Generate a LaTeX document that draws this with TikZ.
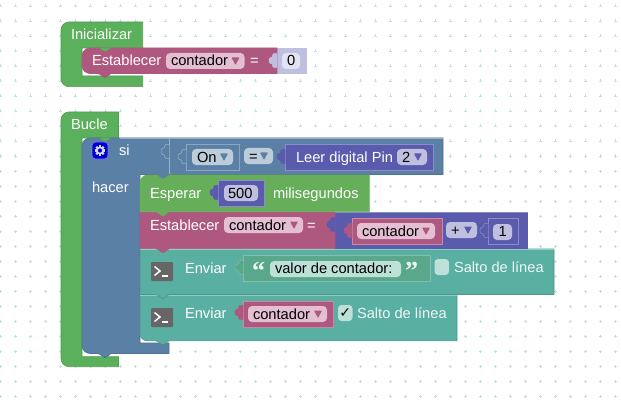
\documentclass[tikz,border=0pt]{standalone}
\usepackage{fontspec}
\setmainfont{Liberation Sans}
\newfontfamily\dejavu{DejaVu Sans}
\newfontfamily\qfont{Liberation Serif}
\definecolor{cgreen}{HTML}{5BB05B}
\definecolor{cesp}{HTML}{66AE5A}
\definecolor{cblue}{HTML}{5B80A5}
\definecolor{cpink}{HTML}{AE5880}
\definecolor{cpur}{HTML}{5B5BAE}
\definecolor{clil}{HTML}{BFBFDF}
\definecolor{cteal}{HTML}{59AFA1}
\definecolor{ctxt}{HTML}{5AA88C}
\definecolor{cdot}{HTML}{C2DFE8}
\definecolor{fpink}{HTML}{E3BFD1}
\definecolor{fblue}{HTML}{BDCCDB}
\definecolor{fpur}{HTML}{BFBFE0}
\definecolor{fteal}{HTML}{BDE0D8}
\definecolor{fval}{HTML}{E2E2F2}
\tikzset{
  txt/.style={inner sep=0pt,outer sep=0pt,anchor=base west,font=\fontsize{14.67}{16}\selectfont},
  wlbl/.style={txt,text=white},
  blbl/.style={txt,text=black},
  qmark/.style={inner sep=0pt,outer sep=0pt,anchor=base west,text=white!90!cteal,font=\qfont\bfseries\fontsize{26}{26}\selectfont},
  blockedge/.style={line width=0.6pt,line join=round}
}
% bottom tab, drawn from right to left, 12 wide
\newcommand\tabL{[rounded corners=1.6pt] -- ++(-5,4) -- ++(-2,0) -- ++(-5,-4) [sharp corners]}
% puzzle tab on the left side of a value block: x, top y, fill, stroke
\newcommand\vtab[4]{\filldraw[fill=#3,draw=#4,line width=0.5pt,rounded corners=1.5pt,shift={(#1,#2)}] (0.3,-0.3) -- (-5,-0.3) -- (-3.6,3) -- (-8,3.6) -- (-8,9.4) -- (-3.6,10) -- (-5,13.3) -- (0.3,13.3);}
% value block box
\newcommand\valbox[6]{\filldraw[fill=#5,draw=#6,line width=0.6pt] (#1,#2) rectangle (#3,#4);}
% dropdown: name,x1,y1,x2,y2,fill,arrow,baseline,text
\newcommand\dd[9]{%
  \fill[#6,rounded corners=4pt] (#2,#3) rectangle (#4,#5);
  \node[blbl] (#1) at ({#2+5},#8) {#9};
  \fill[#7,rounded corners=0.6pt] ({#4-13},{(#3+#5)/2-3.5}) -- ({#4-5},{(#3+#5)/2-3.5}) -- ({#4-9},{(#3+#5)/2+4}) -- cycle;}
% terminal icon
\newcommand\termicon[2]{%
  \fill[black!60,rounded corners=1pt] (#1,#2) rectangle ({#1+22},{#2+19});
  \draw[white,line width=1.5pt] ({#1+3.5},{#2+4.5}) -- ({#1+9},{#2+9}) -- ({#1+3.5},{#2+13.5});
  \draw[white,line width=1.2pt] ({#1+10.5},{#2+14}) -- ({#1+16.5},{#2+14});}
\begin{document}
\begin{tikzpicture}[x=1pt,y=-1pt]
\useasboundingbox (0,0) rectangle (621,401);
\fill[white] (0,0) rectangle (621,401);
% grid
\foreach \gx in {0,15,...,615}{\foreach \gy in {6,21,...,396}{
  \draw[cdot,line width=0.6pt] (\gx-1.5,\gy) -- (\gx+1.5,\gy) (\gx,\gy-1.5) -- (\gx,\gy+1.5);
}}
% ---------- Inicializar
\filldraw[fill=cgreen,draw=cgreen!90!black,blockedge] (100,22) -- (142.7,22) -- (142.7,48) -- (82,48) -- (82,76) -- (142.7,76) -- (142.7,86.7) -- (120,86.7) [rounded corners=8pt] -- (61,86.7) -- (61,22) -- cycle;
\node[wlbl] (ini) at (71,40) {Inicializar};
% pink set block
\fill[clil] (277,48) rectangle (306.5,74);
\filldraw[fill=cpink,draw=cpink,blockedge] (277,48) -- (277,73.5) -- (111,73.5) \tabL -- (92,73.5) [rounded corners=8pt] -- (82,73.5) -- (82,48) -- (120,48) [sharp corners] -- cycle;
\fill[cgreen] (111,47.6) \tabL -- cycle;
\node[wlbl] (set0) at (92,66) {Establecer};
\dd{v0}{166}{53}{244.5}{69}{fpink}{cpink}{66}{contador}
\node[wlbl] (eq0) at (250,66) {=};
\vtab{277}{54}{clil}{clil}
\fill[fval,rounded corners=4pt] (282,53) rectangle (300,69);
\node[blbl] (n0) at (287,66) {0};
% ---------- Bucle outer
\filldraw[fill=cgreen,draw=cgreen!90!black,blockedge] (90,112) -- (118.5,112) -- (118.5,138) -- (82,138) -- (82,356.7) -- (118.5,356.7) -- (118.5,366.7) -- (100,366.7) [rounded corners=8pt] -- (61,366.7) -- (61,112) -- cycle;
\node[wlbl] (bucle) at (71,130) {Bucle};
% ---------- si block
\filldraw[fill=cblue,draw=cblue!88!black,blockedge] (120,138) -- (443,138) -- (443,174.5) -- (140,174.5) -- (140,343) -- (169,343) -- (169,353.5) -- (111,353.5) \tabL -- (95,353.5) [rounded corners=8pt] -- (82,353.5) -- (82,138) -- cycle;
\fill[cgreen] (111,137.6) \tabL -- cycle;
\draw[white!40!cblue,line width=0.5pt] (169,138.5) -- (169,174);
\draw[white!35!cblue,line width=0.6pt] (120,138.4) -- (443,138.4);
% gear icon
\filldraw[fill=blue!80!black,draw=white!50!blue,line width=0.6pt,rounded corners=3.5pt] (92,142) rectangle (108,159);
\foreach \ga in {0,45,...,315}{\fill[white!85!blue,shift={(100,150.5)},rotate=\ga] (-1.1,-5.2) rectangle (1.1,-3);}
\draw[white!85!blue,line width=1.6pt] (100,150.5) circle[radius=3.1pt];
\node[wlbl] (si) at (119,156) {si};
\node[wlbl] (hacer) at (92,192) {hacer};
% compare block content
\vtab{169}{145}{cblue}{white!40!cblue}
\valbox{186}{144}{239}{170.5}{cblue}{white!30!cblue}
\vtab{186}{150}{cblue}{white!40!cblue}
\dd{on}{192}{149}{233}{165}{fblue}{cblue}{162}{On}
\dd{eq1}{244}{148}{273}{164}{fblue}{cblue}{161}{=}
\valbox{285}{144}{433}{170.5}{cpur}{white!30!cpur}
\vtab{285}{150}{cpur}{cpur}
\node[wlbl] (leer) at (296,162) {Leer digital Pin};
\dd{pin}{397}{149}{427}{165}{fpur}{cpur}{162}{2}
% ---------- statements (bottom first)
% Enviar 2
\filldraw[fill=cteal,draw=cteal!85!black,blockedge] (200,295) -- (457,295) -- (457,340.7) -- (169,340.7) \tabL -- (150,340.7) [rounded corners=7pt] -- (140,340.7) -- (140,320) [sharp corners] -- (140,295) -- cycle;
\draw[white!35!cteal,line width=0.6pt] (140,295.4) -- (457,295.4);
\termicon{151}{308}
\node[wlbl] (env2) at (185,318) {Enviar};
\valbox{243}{301}{333}{327}{cpink}{white!30!cpink}
\vtab{243}{306}{cpink}{cpink}
\dd{v2}{248}{306}{327}{322}{fpink}{cpink}{319}{contador}
\fill[fteal,rounded corners=3.5pt] (338,305) rectangle (352.5,321);
\node[inner sep=0pt,text=black,font=\dejavu\fontsize{14}{14}\selectfont] (chk) at (345.2,313.5) {✓};
\node[wlbl,text=white!90!cteal] (salto2) at (357,318) {Salto de línea};
% Enviar 1
\filldraw[fill=cteal,draw=cteal!85!black,blockedge] (140,249) -- (554,249) -- (554,294.5) -- (169,294.5) \tabL -- (140,294.5) -- cycle;
\draw[white!35!cteal,line width=0.6pt] (140,249.4) -- (554,249.4);
\termicon{151}{262}
\node[wlbl] (env1) at (185,273) {Enviar};
\valbox{243}{255}{430}{281}{ctxt}{white!25!ctxt}
\vtab{243}{261}{ctxt}{white!25!ctxt}
\node[qmark] (qo) at (252,279.5) {“};
\fill[fteal,rounded corners=4pt] (270,261) rectangle (401,277);
\node[blbl] (msg) at (275,273.5) {valor de contador:};
\node[qmark] (qc) at (405,279.5) {”};
\fill[fteal,rounded corners=3.5pt] (434.5,259) rectangle (449,275);
\node[wlbl,text=white!90!cteal] (salto1) at (454,272) {Salto de línea};
% Establecer contador
\fill[cpur] (335,212.3) rectangle (528,248.5);
\draw[white!30!cpur,line width=0.6pt] (335,212.5) -- (528,212.5);
\filldraw[fill=cpink,draw=cpink,blockedge] (200,212) -- (335,212) -- (335,248.6) -- (169,248.6) \tabL -- (140,248.6) -- (140,212) -- cycle;
\node[wlbl] (set1) at (150,230) {Establecer};
\dd{v1}{224}{217}{303}{233}{fpink}{cpink}{230}{contador}
\node[wlbl] (eq2) at (307,230) {=};
\vtab{335}{218}{cpur}{cpur}
\valbox{352}{218}{442}{244}{cpink}{white!30!cpink}
\vtab{352}{224}{cpink}{cpink}
\dd{v3}{357}{223}{435}{239}{fpink}{cpink}{236}{contador}
\dd{plus}{446}{222}{477}{238}{fpur}{cpur}{235}{+}
\valbox{488}{218}{518}{244}{cpur}{white!30!cpur}
\vtab{488}{224}{cpur}{white!30!cpur}
\fill[fpur,rounded corners=4pt] (493,224) rectangle (512,240);
\node[blbl] (n1) at (498.5,236.5) {1};
% Esperar
\filldraw[fill=cesp,draw=cesp,blockedge] (200,175) -- (369.3,175) -- (369.3,211.7) -- (169,211.7) \tabL -- (140,211.7) -- (140,200) [rounded corners=8pt] -- (140,175) -- cycle;
\fill[cblue] (169,174.6) \tabL -- cycle;
\node[wlbl] (esp) at (150,198) {Esperar};
\valbox{218}{180}{264}{206}{cpur}{white!30!cpur}
\vtab{218}{186}{cpur}{cpur}
\fill[fpur,rounded corners=4pt] (224,185) rectangle (258,201);
\node[blbl] (n500) at (228,198.5) {500};
\node[wlbl] (mil) at (273,198) {milisegundos};
\end{tikzpicture}
\end{document}
